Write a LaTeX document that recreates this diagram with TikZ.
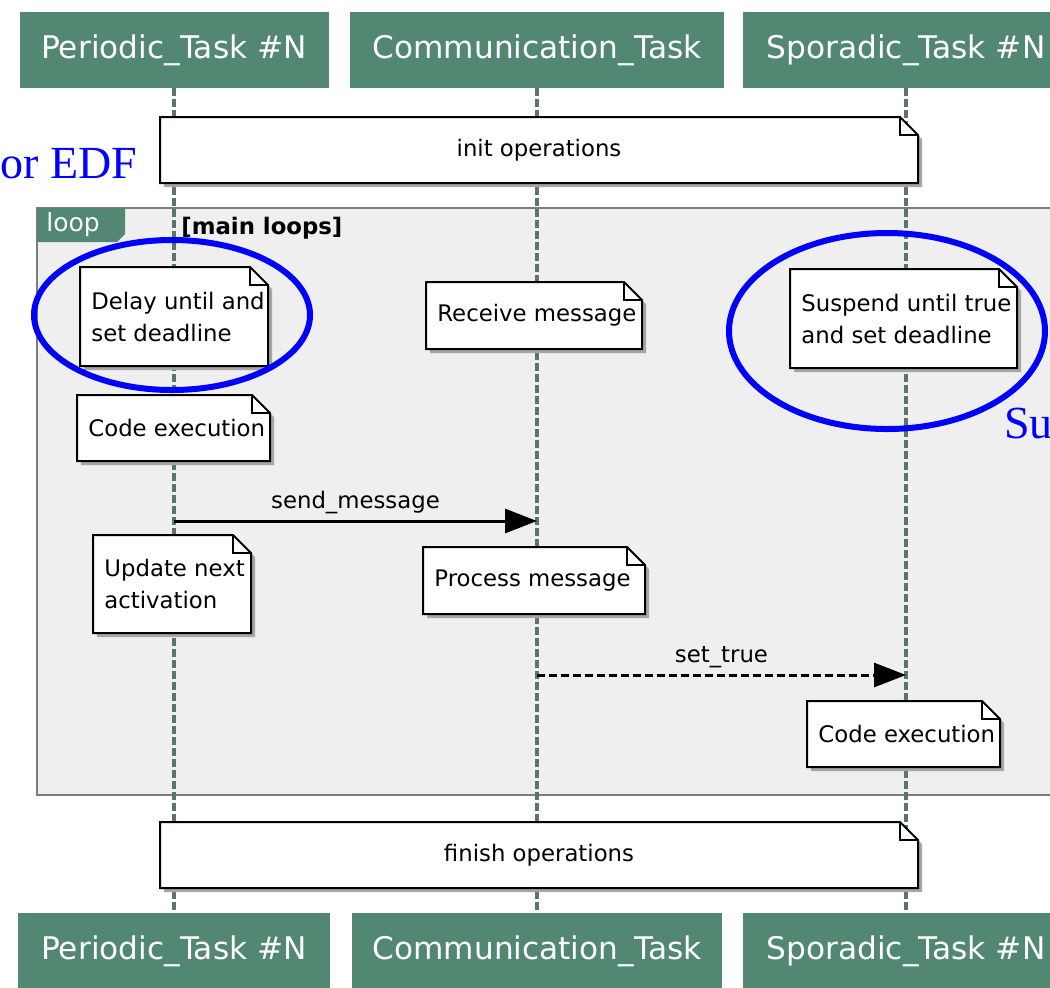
\documentclass[tikz,border=0pt]{standalone}
\usepackage{fontspec}
\setmainfont{DejaVu Sans}
\newfontfamily\edffont{Liberation Serif}
\usetikzlibrary{arrows.meta,calc}
\definecolor{umlgreen}{RGB}{82,135,114}
\definecolor{lifegray}{RGB}{88,118,108}
\definecolor{loopfill}{RGB}{239,239,239}
\definecolor{loopedge}{RGB}{125,125,125}

\tikzset{
  lifehead/.style={rectangle, fill=umlgreen, text=white, inner sep=0pt,
    minimum height=38pt, font=\fontsize{15.6}{18}\selectfont},
  lifeline/.style={draw=lifegray, line width=2pt, dash pattern=on 4pt off 1.5pt},
  loopframe/.style={fill=loopfill, draw=loopedge, line width=1pt},
  noteshadow/.style={fill=black!35},
  notebody/.style={fill=white, draw=black, line width=1pt, line join=miter},
  notetxt/.style={font=\fontsize{11.4}{16}\selectfont, align=left, inner sep=0pt},
  msg/.style={line width=1.5pt, -{Triangle[length=16pt,width=12pt]}},
  msglabel/.style={above, inner sep=3pt, font=\fontsize{11.4}{16}\selectfont},
  hilite/.style={draw=blue, line width=3pt},
  edftxt/.style={text=blue, inner sep=0pt, font=\edffont\fontsize{23}{27}\selectfont}
}

% note with folded corner: [anchor]{name}{x}{y}{w}{h}{text}, pixel units
\newcommand{\umlnote}[7][west]{%
  \fill[noteshadow] (#3+4,#4+4) -- ++(#5-18,0) -- ++(18,18) -- ++(0,#6-18) -- ++(-#5,0) -- cycle;
  \filldraw[notebody] (#3,#4) -- ++(#5-18,0) -- ++(18,18) -- ++(0,#6-18) -- ++(-#5,0) -- cycle;
  \draw[notebody, fill=none] (#3+#5-18,#4) -- ++(0,18) -- ++(18,0);
  \def\tmpanc{#1}\def\tmpctr{center}%
  \ifx\tmpanc\tmpctr
    \node[notetxt] (#2) at (#3+#5/2,#4+#6/2) {#7};
  \else
    \node[notetxt, anchor=west] (#2) at (#3+11,#4+#6/2) {#7};
  \fi
}

\begin{document}
\begin{tikzpicture}[x=0.5pt,y=-0.5pt]
\useasboundingbox (0,0) rectangle (1050,987);
% loop frame
\filldraw[loopframe] (37,208) rectangle (1090,795);
% participants
\node[lifehead, minimum width=154.5pt] (pt) at (174,50) {Periodic\_Task \#N};
\node[lifehead, minimum width=187pt] (ct) at (537,50) {Communication\_Task};
\node[lifehead, minimum width=163pt] (st) at (906,50) {Sporadic\_Task \#N};
\node[lifehead, minimum width=156pt] (pb) at (174,951) {Periodic\_Task \#N};
\node[lifehead, minimum width=185pt] (cb) at (537,951) {Communication\_Task};
\node[lifehead, minimum width=163pt] (sb) at (906,951) {Sporadic\_Task \#N};
\foreach \a/\b in {pt/pb,ct/cb,st/sb}{\draw[lifeline] (\a) -- (\b);}
% loop tab
\fill[umlgreen] (37,208) -- (125,208) -- (125,234) -- (117,242) -- (37,242) -- cycle;
\node[notetxt, text=white, anchor=west, font=\fontsize{12.5}{16}\selectfont] (lp) at (46,225) {loop};
\node[notetxt, anchor=west, font=\fontsize{11.4}{16}\selectfont\bfseries] (ml) at (181,228) {[main loops]};
% notes
\umlnote[center]{init}{160}{117}{758}{66}{init operations}
\umlnote{dly}{80}{267}{188}{99}{Delay until and\\set deadline}
\umlnote{rcv}{426}{282}{216}{67}{Receive message}
\umlnote{ssp}{790}{269}{227}{99}{Suspend until true\\and set deadline}
\umlnote{cxa}{77}{395}{193}{66}{Code execution}
\umlnote{upd}{93}{535}{158}{98}{Update next\\activation}
\umlnote{prc}{423}{547}{222}{67}{Process message}
\umlnote{cxb}{807}{701}{193}{66}{Code execution}
\umlnote[center]{fin}{160}{822}{758}{66}{finish operations}
% messages
\coordinate (m1) at (174,521); \coordinate (m2) at (537,521);
\draw[msg] (m1) -- node[msglabel] {send\_message} (m2);
\coordinate (t1) at (537,675); \coordinate (t2) at (906,675);
\draw[msg, dash pattern=on 4pt off 2pt] (t1) -- node[msglabel] {set\_true} (t2);
% highlights
\draw[hilite] (172,315) ellipse [x radius=138, y radius=75];
\draw[hilite] (887,331) ellipse [x radius=158, y radius=98];
\node[edftxt, anchor=base west] (edf) at (0,178) {or EDF};
\node[edftxt, anchor=base west] (su) at (1004,438) {Su};
\end{tikzpicture}
\end{document}
